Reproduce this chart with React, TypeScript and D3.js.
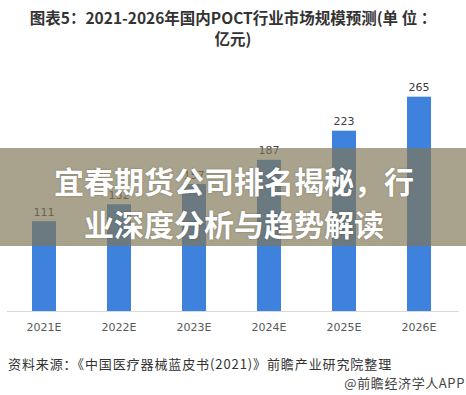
import React from "react";
import * as d3 from "d3";

const categories = ["2021E", "2022E", "2023E", "2024E", "2025E", "2026E"];
const values = [111, 132, 157, 187, 223, 265];
const titleLines = ["图表5：2021-2026年国内POCT行业市场规模预测(单 位 ：", "亿元)"];
const bannerLines = ["宜春期货公司排名揭秘，行", "业深度分析与趋势解读"];
const sourceText = "资料来源：《中国医疗器械蓝皮书(2021)》前瞻产业研究院整理";
const brandText = "@前瞻经济学人APP";

const W = 466;
const H = 395;
const FONT = "'Noto Sans CJK SC', 'Microsoft YaHei', sans-serif";

export default function App() {
  const x = d3
    .scaleBand<string>()
    .domain(categories)
    .range([6.5, 456.5])
    .paddingInner(0.68)
    .paddingOuter(0.34);
  const baseY = 311;
  const y = d3.scaleLinear().domain([0, 265]).range([baseY, 96.7]);

  return (
    <svg
      width={W}
      height={H}
      style={{ position: "absolute", left: 0, top: 0, background: "#fff" }}
      fontFamily={FONT}
    >
      <rect x={0} y={0} width={W} height={H} fill="#fff" />
      {titleLines.map((t, i) => (
        <text
          key={i}
          x={233}
          y={16.5 + i * 21}
          textAnchor="middle"
          dominantBaseline="central"
          fontSize={15.5}
          fontWeight="bold"
          fill="#333"
        >
          {t}
        </text>
      ))}
      {categories.map((c, i) => (
        <g key={c}>
          <rect
            x={x(c)}
            y={y(values[i])}
            width={x.bandwidth()}
            height={baseY - y(values[i])}
            fill="#3f82dd"
          />
          <text
            x={(x(c) as number) + x.bandwidth() / 2}
            y={y(values[i]) - 9}
            textAnchor="middle"
            fontSize={11}
            fill="#404040"
            fontFamily="'DejaVu Sans', sans-serif"
            dominantBaseline="central"
          >
            {values[i]}
          </text>
          <text
            x={(x(c) as number) + x.bandwidth() / 2}
            y={327}
            textAnchor="middle"
            fontSize={11}
            fill="#595959"
            fontFamily="'DejaVu Sans', sans-serif"
            dominantBaseline="central"
          >
            {c}
          </text>
        </g>
      ))}
      <line x1={7} x2={459} y1={baseY + 0.5} y2={baseY + 0.5} stroke="#d9d9d9" strokeWidth={1} />
      <rect x={0} y={148} width={W} height={98} fill="rgb(128,118,85)" fillOpacity={0.68} />
      {bannerLines.map((t, i) => (
        <text
          key={i}
          x={234}
          y={180 + i * 43}
          textAnchor="middle"
          dominantBaseline="central"
          fontSize={30}
          fontWeight="bold"
          fill="#fff"
          style={{ textShadow: "0 0 2px rgba(0,0,0,0.3)" }}
        >
          {t}
        </text>
      ))}
      <text x={8} y={363} dominantBaseline="central" fontSize={13} letterSpacing={0.9} fill="#333">
        {sourceText}
      </text>
      <text x={465} y={382} textAnchor="end" dominantBaseline="central" fontSize={13} letterSpacing={0.6} fill="#444">
        {brandText}
      </text>
    </svg>
  );
}
